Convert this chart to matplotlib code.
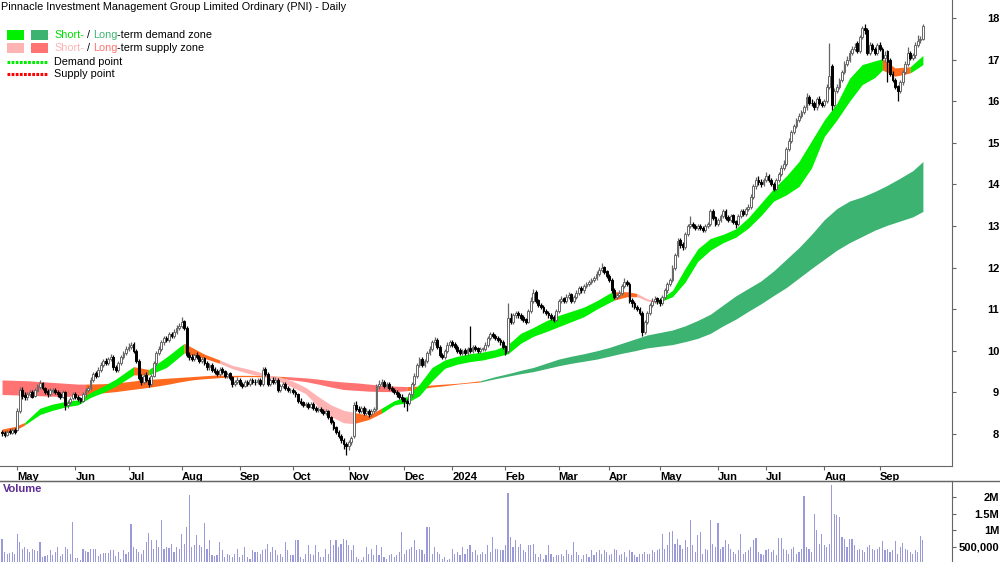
import numpy as np
import pandas as pd
import matplotlib
matplotlib.use('Agg')
import matplotlib.pyplot as plt
from matplotlib.patches import Rectangle
from matplotlib.lines import Line2D

plt.rcParams['font.family'] = ['Liberation Sans', 'DejaVu Sans']

title = 'Pinnacle Investment Management Group Limited Ordinary (PNI) - Daily'
start_date = '2023-04-20'
asx_holidays = ['2023-04-25', '2023-06-12', '2023-12-25', '2023-12-26', '2024-01-01',
                '2024-01-26', '2024-03-29', '2024-04-01', '2024-04-25', '2024-06-10']

# daily candles (10 per line)
opens = [
    8.05, 8.03, 7.98, 8.07, 8.03, 8.10, 8.10, 8.55, 9.05, 8.93,
    8.88, 8.96, 9.01, 8.92, 9.04, 9.14, 9.22, 9.10, 9.03, 8.96,
    9.04, 9.06, 9.01, 8.96, 8.90, 9.00, 8.70, 8.76, 8.86, 8.96,
    8.90, 8.86, 8.80, 8.95, 9.06, 9.10, 9.30, 9.46, 9.40, 9.55,
    9.66, 9.76, 9.70, 9.80, 9.86, 9.60, 9.55, 9.70, 9.85, 9.95,
    10.05, 10.10, 10.16, 10.00, 9.75, 9.36, 9.25, 9.42, 9.31, 9.20,
    9.40, 9.70, 9.95, 10.05, 10.20, 10.31, 10.25, 10.40, 10.35, 10.45,
    10.55, 10.60, 10.71, 10.55, 9.90, 9.86, 9.80, 9.91, 9.86, 9.75,
    9.82, 9.71, 9.60, 9.66, 9.56, 9.51, 9.45, 9.56, 9.51, 9.40,
    9.46, 9.36, 9.20, 9.25, 9.31, 9.21, 9.15, 9.26, 9.20, 9.30,
    9.26, 9.25, 9.31, 9.20, 9.56, 9.45, 9.20, 9.31, 9.25, 9.30,
    9.05, 9.15, 9.21, 9.11, 9.05, 9.06, 9.00, 8.95, 8.80, 8.76,
    8.70, 8.71, 8.65, 8.72, 8.63, 8.58, 8.61, 8.56, 8.50, 8.55,
    8.40, 8.30, 8.16, 8.05, 7.96, 7.85, 7.76, 7.70, 7.80, 7.95,
    8.70, 8.61, 8.55, 8.62, 8.50, 8.56, 8.48, 8.55, 8.60, 9.15,
    9.20, 9.26, 9.15, 9.21, 9.10, 9.06, 9.00, 8.96, 8.90, 8.86,
    8.80, 8.75, 8.95, 9.20, 9.40, 9.65, 9.80, 9.65, 9.75, 9.95,
    10.05, 10.20, 10.26, 10.10, 9.90, 9.85, 10.00, 10.15, 10.21, 10.16,
    10.10, 10.01, 9.95, 10.01, 9.95, 10.06, 10.00, 10.10, 10.06, 10.00,
    10.05, 10.05, 10.15, 10.30, 10.41, 10.36, 10.31, 10.26, 10.21, 10.11,
    10.00, 10.80, 10.70, 10.85, 10.91, 10.86, 10.81, 10.76, 10.70, 10.95,
    11.20, 11.41, 11.21, 11.10, 11.06, 10.96, 10.91, 10.86, 10.81, 10.75,
    10.95, 11.20, 11.26, 11.20, 11.30, 11.36, 11.20, 11.30, 11.40, 11.51,
    11.45, 11.55, 11.60, 11.65, 11.70, 11.75, 11.85, 11.95, 12.01, 11.91,
    11.81, 11.71, 11.46, 11.30, 11.35, 11.40, 11.55, 11.66, 11.61, 11.21,
    11.16, 11.06, 11.01, 10.91, 10.45, 10.70, 10.90, 11.10, 11.20, 11.26,
    11.21, 11.15, 11.30, 11.45, 11.60, 11.70, 12.00, 12.30, 12.66, 12.56,
    12.50, 12.80, 13.00, 13.06, 13.01, 12.95, 13.01, 12.96, 12.90, 13.00,
    13.05, 13.36, 13.21, 13.05, 13.15, 13.25, 13.36, 13.21, 13.15, 13.26,
    13.11, 13.05, 13.25, 13.36, 13.30, 13.40, 13.45, 13.70, 13.95, 14.11,
    14.06, 14.00, 14.10, 14.21, 14.11, 14.01, 13.90, 14.10, 14.25, 14.40,
    14.50, 14.85, 15.05, 15.25, 15.40, 15.55, 15.65, 15.75, 15.85, 16.11,
    15.96, 15.96, 15.85, 16.06, 15.96, 15.90, 16.00, 16.35, 16.85, 15.90,
    16.25, 16.35, 16.50, 16.70, 16.90, 17.00, 17.15, 17.25, 17.40, 17.20,
    17.55, 17.76, 17.70, 17.15, 17.36, 17.26, 17.15, 17.36, 17.26, 17.05,
    17.20, 17.00, 16.66, 16.51, 16.36, 16.25, 16.45, 16.70, 16.90, 17.16,
    17.05, 17.10, 17.35, 17.46, 17.50,
]
highs = [
    8.10, 8.08, 8.10, 8.12, 8.15, 8.14, 8.62, 9.12, 9.12, 9.00,
    9.00, 9.06, 9.05, 9.10, 9.20, 9.30, 9.26, 9.14, 9.08, 9.10,
    9.10, 9.10, 9.05, 9.00, 9.05, 9.04, 8.82, 8.90, 9.00, 9.00,
    8.94, 8.90, 9.00, 9.10, 9.16, 9.36, 9.50, 9.52, 9.60, 9.72,
    9.80, 9.82, 9.86, 9.92, 9.90, 9.66, 9.76, 9.90, 10.00, 10.12,
    10.18, 10.22, 10.20, 10.05, 9.80, 9.45, 9.46, 9.48, 9.38, 9.45,
    9.75, 10.00, 10.12, 10.25, 10.36, 10.36, 10.45, 10.45, 10.52, 10.62,
    10.66, 10.82, 10.75, 10.60, 9.96, 9.92, 9.95, 9.96, 9.90, 9.86,
    9.86, 9.76, 9.70, 9.70, 9.62, 9.56, 9.60, 9.60, 9.55, 9.50,
    9.50, 9.40, 9.30, 9.36, 9.35, 9.26, 9.30, 9.30, 9.35, 9.34,
    9.32, 9.35, 9.34, 9.62, 9.60, 9.50, 9.35, 9.36, 9.36, 9.34,
    9.20, 9.25, 9.25, 9.15, 9.10, 9.10, 9.05, 8.98, 8.86, 8.80,
    8.76, 8.76, 8.78, 8.76, 8.68, 8.65, 8.65, 8.60, 8.60, 8.58,
    8.44, 8.34, 8.20, 8.10, 8.00, 7.90, 7.80, 7.85, 7.96, 8.78,
    8.80, 8.68, 8.68, 8.68, 8.62, 8.60, 8.60, 8.66, 9.20, 9.30,
    9.32, 9.30, 9.25, 9.26, 9.15, 9.10, 9.05, 9.00, 8.95, 8.90,
    8.85, 9.00, 9.26, 9.46, 9.70, 9.86, 9.85, 9.80, 10.00, 10.12,
    10.25, 10.32, 10.30, 10.15, 9.95, 10.05, 10.20, 10.26, 10.25, 10.20,
    10.15, 10.06, 10.05, 10.06, 10.10, 10.60, 10.15, 10.15, 10.10, 10.10,
    10.10, 10.20, 10.35, 10.46, 10.45, 10.40, 10.36, 10.30, 10.25, 10.15,
    11.15, 10.90, 10.90, 10.96, 10.95, 10.90, 10.85, 10.80, 11.00, 11.30,
    11.48, 11.45, 11.25, 11.15, 11.10, 11.00, 10.95, 10.90, 10.86, 11.00,
    11.25, 11.32, 11.30, 11.36, 11.42, 11.40, 11.35, 11.45, 11.56, 11.55,
    11.60, 11.66, 11.70, 11.76, 11.80, 11.92, 12.02, 12.10, 12.05, 11.95,
    11.85, 11.75, 11.50, 11.40, 11.45, 11.60, 11.75, 11.70, 11.65, 11.28,
    11.20, 11.10, 11.05, 10.95, 10.75, 10.95, 11.15, 11.26, 11.32, 11.30,
    11.26, 11.35, 11.50, 11.66, 11.76, 12.06, 12.36, 12.72, 12.70, 12.62,
    12.86, 13.06, 13.25, 13.10, 13.06, 13.05, 13.06, 13.00, 13.06, 13.10,
    13.42, 13.40, 13.25, 13.20, 13.30, 13.42, 13.40, 13.26, 13.30, 13.30,
    13.15, 13.30, 13.40, 13.40, 13.45, 13.52, 13.76, 14.00, 14.18, 14.20,
    14.12, 14.16, 14.30, 14.26, 14.16, 14.06, 14.15, 14.30, 14.46, 14.58,
    14.90, 15.12, 15.30, 15.46, 15.60, 15.72, 15.80, 15.92, 16.20, 16.15,
    16.05, 16.00, 16.10, 16.12, 16.00, 16.06, 16.42, 17.40, 16.90, 16.32,
    16.42, 16.56, 16.76, 16.96, 17.08, 17.22, 17.32, 17.40, 17.45, 17.60,
    17.82, 17.86, 17.75, 17.42, 17.40, 17.30, 17.40, 17.42, 17.30, 17.20,
    17.22, 17.05, 16.72, 16.56, 16.40, 16.50, 16.76, 16.96, 17.30, 17.20,
    17.15, 17.42, 17.60, 17.56, 17.85,
]
lows = [
    7.95, 7.93, 7.95, 7.99, 8.00, 8.00, 8.08, 8.50, 8.85, 8.82,
    8.82, 8.90, 8.86, 8.88, 9.00, 9.08, 9.05, 8.96, 8.90, 8.92,
    8.98, 8.96, 8.90, 8.84, 8.86, 8.58, 8.62, 8.72, 8.82, 8.84,
    8.80, 8.74, 8.77, 8.90, 9.00, 9.06, 9.25, 9.35, 9.36, 9.50,
    9.60, 9.65, 9.66, 9.75, 9.55, 9.48, 9.50, 9.66, 9.80, 9.90,
    10.00, 10.05, 9.95, 9.70, 9.30, 9.18, 9.20, 9.25, 9.12, 9.15,
    9.36, 9.65, 9.90, 10.00, 10.15, 10.20, 10.20, 10.30, 10.30, 10.40,
    10.50, 10.55, 10.50, 9.85, 9.78, 9.75, 9.76, 9.80, 9.70, 9.70,
    9.66, 9.55, 9.55, 9.50, 9.45, 9.40, 9.40, 9.45, 9.35, 9.35,
    9.30, 9.12, 9.15, 9.20, 9.15, 9.10, 9.12, 9.15, 9.16, 9.20,
    9.18, 9.20, 9.15, 9.16, 9.40, 9.15, 9.15, 9.20, 9.20, 9.00,
    9.00, 9.10, 9.05, 9.00, 8.98, 8.95, 8.90, 8.75, 8.70, 8.64,
    8.64, 8.60, 8.62, 8.58, 8.52, 8.54, 8.50, 8.45, 8.45, 8.35,
    8.25, 8.10, 8.00, 7.90, 7.78, 7.65, 7.50, 7.62, 7.74, 7.90,
    8.55, 8.50, 8.50, 8.45, 8.45, 8.42, 8.44, 8.50, 8.55, 9.08,
    9.15, 9.10, 9.10, 9.05, 9.00, 8.95, 8.90, 8.85, 8.78, 8.65,
    8.55, 8.70, 8.90, 9.15, 9.35, 9.60, 9.60, 9.60, 9.70, 9.90,
    10.00, 10.15, 10.05, 9.85, 9.80, 9.80, 9.95, 10.10, 10.10, 10.05,
    9.95, 9.90, 9.90, 9.90, 9.90, 9.95, 9.95, 10.00, 9.95, 9.95,
    10.00, 10.00, 10.10, 10.25, 10.30, 10.25, 10.20, 10.15, 10.05, 9.90,
    9.95, 10.65, 10.65, 10.80, 10.80, 10.75, 10.70, 10.65, 10.66, 10.90,
    11.15, 11.15, 11.05, 11.00, 10.90, 10.85, 10.80, 10.75, 10.70, 10.72,
    10.90, 11.15, 11.15, 11.15, 11.25, 11.15, 11.15, 11.25, 11.35, 11.40,
    11.40, 11.50, 11.55, 11.60, 11.65, 11.70, 11.80, 11.90, 11.85, 11.75,
    11.65, 11.40, 11.25, 11.25, 11.30, 11.35, 11.50, 11.55, 11.15, 11.05,
    11.00, 10.95, 10.85, 10.35, 10.40, 10.65, 10.85, 11.05, 11.15, 11.12,
    11.08, 11.10, 11.25, 11.40, 11.55, 11.65, 11.95, 12.25, 12.48, 12.42,
    12.45, 12.75, 12.95, 12.95, 12.90, 12.90, 12.90, 12.85, 12.85, 12.95,
    13.00, 13.15, 13.00, 13.00, 13.10, 13.20, 13.15, 13.10, 13.10, 13.05,
    12.95, 13.00, 13.20, 13.25, 13.25, 13.35, 13.40, 13.65, 13.90, 13.98,
    13.94, 13.95, 14.05, 14.05, 13.95, 13.85, 13.86, 14.05, 14.20, 14.35,
    14.45, 14.80, 15.00, 15.20, 15.35, 15.50, 15.60, 15.70, 15.80, 15.90,
    15.88, 15.78, 15.80, 15.90, 15.85, 15.85, 15.95, 16.30, 15.80, 15.85,
    16.20, 16.30, 16.45, 16.65, 16.85, 16.95, 17.10, 17.20, 17.15, 17.15,
    17.50, 17.62, 17.10, 17.10, 17.20, 17.10, 17.10, 17.20, 17.00, 16.95,
    16.45, 16.60, 16.45, 16.30, 16.00, 16.20, 16.40, 16.65, 16.85, 17.00,
    16.98, 17.05, 17.30, 17.40, 17.48,
]
closes = [
    8.02, 7.98, 8.06, 8.04, 8.10, 8.05, 8.55, 9.05, 8.92, 8.88,
    8.95, 9.00, 8.90, 9.05, 9.15, 9.22, 9.10, 9.02, 8.95, 9.05,
    9.05, 9.00, 8.95, 8.90, 9.00, 8.70, 8.75, 8.85, 8.95, 8.90,
    8.85, 8.80, 8.95, 9.05, 9.10, 9.30, 9.45, 9.40, 9.55, 9.65,
    9.75, 9.70, 9.80, 9.85, 9.60, 9.55, 9.70, 9.85, 9.95, 10.05,
    10.10, 10.15, 10.00, 9.75, 9.35, 9.25, 9.40, 9.30, 9.20, 9.40,
    9.70, 9.95, 10.05, 10.20, 10.30, 10.25, 10.40, 10.35, 10.45, 10.55,
    10.60, 10.70, 10.55, 9.90, 9.85, 9.80, 9.90, 9.85, 9.75, 9.80,
    9.70, 9.60, 9.65, 9.55, 9.50, 9.45, 9.55, 9.50, 9.40, 9.45,
    9.35, 9.20, 9.25, 9.30, 9.20, 9.15, 9.25, 9.20, 9.30, 9.25,
    9.25, 9.30, 9.20, 9.55, 9.45, 9.20, 9.30, 9.25, 9.30, 9.05,
    9.15, 9.20, 9.10, 9.05, 9.05, 9.00, 8.95, 8.80, 8.75, 8.70,
    8.70, 8.65, 8.72, 8.62, 8.58, 8.60, 8.55, 8.50, 8.55, 8.40,
    8.30, 8.15, 8.05, 7.95, 7.85, 7.75, 7.70, 7.80, 7.90, 8.70,
    8.60, 8.55, 8.62, 8.50, 8.55, 8.48, 8.55, 8.60, 9.15, 9.20,
    9.25, 9.15, 9.20, 9.10, 9.05, 9.00, 8.95, 8.90, 8.85, 8.80,
    8.75, 8.95, 9.20, 9.40, 9.65, 9.80, 9.65, 9.75, 9.95, 10.05,
    10.20, 10.25, 10.10, 9.90, 9.85, 10.00, 10.15, 10.20, 10.15, 10.10,
    10.00, 9.95, 10.00, 9.95, 10.05, 10.00, 10.10, 10.05, 10.00, 10.05,
    10.05, 10.15, 10.30, 10.40, 10.35, 10.30, 10.25, 10.20, 10.10, 9.95,
    10.80, 10.70, 10.85, 10.90, 10.85, 10.80, 10.75, 10.70, 10.95, 11.20,
    11.40, 11.20, 11.10, 11.05, 10.95, 10.90, 10.85, 10.80, 10.75, 10.95,
    11.20, 11.25, 11.20, 11.30, 11.35, 11.20, 11.30, 11.40, 11.50, 11.45,
    11.55, 11.60, 11.65, 11.70, 11.75, 11.85, 11.95, 12.00, 11.90, 11.80,
    11.70, 11.45, 11.30, 11.35, 11.40, 11.55, 11.65, 11.60, 11.20, 11.15,
    11.05, 11.00, 10.90, 10.45, 10.70, 10.90, 11.10, 11.20, 11.25, 11.20,
    11.15, 11.30, 11.45, 11.60, 11.70, 12.00, 12.30, 12.65, 12.55, 12.50,
    12.80, 13.00, 13.05, 13.00, 12.95, 13.00, 12.95, 12.90, 13.00, 13.05,
    13.35, 13.20, 13.05, 13.15, 13.25, 13.35, 13.20, 13.15, 13.25, 13.10,
    13.05, 13.25, 13.35, 13.30, 13.40, 13.45, 13.70, 13.95, 14.10, 14.05,
    14.00, 14.10, 14.20, 14.10, 14.00, 13.90, 14.10, 14.25, 14.40, 14.50,
    14.85, 15.05, 15.25, 15.40, 15.55, 15.65, 15.75, 15.85, 16.10, 15.95,
    15.95, 15.85, 16.05, 15.95, 15.90, 16.00, 16.35, 16.60, 15.90, 16.25,
    16.35, 16.50, 16.70, 16.90, 17.00, 17.15, 17.25, 17.30, 17.20, 17.55,
    17.75, 17.70, 17.15, 17.35, 17.25, 17.15, 17.35, 17.25, 17.05, 17.10,
    16.95, 16.65, 16.50, 16.35, 16.25, 16.45, 16.70, 16.90, 17.15, 17.05,
    17.10, 17.35, 17.45, 17.50, 17.80,
]
# volume in millions of shares
volume_m = [
    0.75, 0.36, 0.30, 0.33, 0.35, 0.28, 0.90, 0.66, 0.45, 0.50,
    0.45, 0.35, 0.45, 0.40, 0.37, 0.66, 0.20, 0.22, 0.25, 0.40,
    0.25, 0.35, 0.50, 0.22, 0.30, 0.50, 0.45, 0.30, 1.25, 0.18,
    0.18, 0.12, 0.45, 0.37, 0.36, 0.45, 0.45, 0.43, 0.22, 0.28,
    0.33, 0.33, 0.33, 0.40, 0.42, 0.22, 0.36, 0.15, 0.40, 0.30,
    0.35, 1.20, 0.50, 0.45, 0.35, 0.30, 0.40, 0.65, 0.93, 0.70,
    0.45, 0.72, 0.50, 1.32, 0.45, 0.50, 0.48, 0.60, 0.35, 0.50,
    0.45, 0.90, 0.60, 1.10, 2.07, 0.50, 0.55, 0.85, 0.55, 0.50,
    1.23, 0.45, 0.70, 0.25, 0.22, 0.25, 0.65, 0.40, 0.20, 0.30,
    0.25, 0.20, 0.30, 0.45, 0.20, 0.25, 0.50, 0.20, 0.15, 0.40,
    0.35, 0.35, 0.30, 0.40, 0.45, 0.60, 0.35, 0.50, 0.40, 0.25,
    0.30, 0.20, 0.65, 0.40, 0.25, 0.25, 0.70, 0.70, 0.20, 0.15,
    0.30, 0.55, 0.30, 0.25, 0.55, 0.35, 0.20, 0.20, 0.45, 0.30,
    0.72, 0.55, 0.72, 0.50, 0.60, 0.75, 0.72, 0.55, 0.40, 0.55,
    0.20, 0.15, 0.12, 0.20, 0.50, 0.30, 0.45, 0.25, 0.55, 0.25,
    0.50, 0.20, 0.15, 0.25, 0.30, 0.20, 0.25, 0.35, 0.95, 0.30,
    0.40, 0.45, 0.50, 0.70, 0.40, 0.45, 0.40, 0.30, 1.10, 1.10,
    0.30, 0.50, 0.35, 0.30, 0.15, 0.20, 0.12, 0.15, 0.45, 0.30,
    0.35, 0.25, 0.50, 0.30, 0.45, 0.55, 0.35, 0.40, 0.25, 0.30,
    0.35, 0.30, 0.55, 0.35, 0.80, 0.45, 0.45, 0.40, 0.40, 0.55,
    2.12, 0.80, 0.50, 0.70, 0.50, 0.60, 0.40, 0.35, 0.55, 0.55,
    0.60, 0.30, 0.20, 0.30, 0.15, 0.25, 0.55, 0.30, 0.20, 0.25,
    0.25, 0.30, 0.22, 0.40, 0.30, 0.25, 0.65, 0.35, 0.25, 0.15,
    0.25, 0.30, 0.20, 0.40, 0.25, 0.35, 0.40, 0.30, 0.40, 0.35,
    0.25, 0.30, 0.45, 0.40, 0.25, 0.30, 0.35, 0.20, 0.40, 0.35,
    0.25, 0.20, 0.30, 0.30, 0.35, 0.30, 0.30, 0.40, 0.35, 0.40,
    0.45, 0.90, 0.45, 0.55, 0.95, 0.98, 0.60, 0.75, 0.55, 0.45,
    0.70, 0.50, 1.30, 0.55, 0.35, 0.85, 0.95, 0.30, 0.45, 0.40,
    1.30, 0.60, 0.50, 1.22, 0.45, 0.50, 0.70, 0.60, 0.45, 0.35,
    0.30, 0.40, 0.90, 0.30, 0.35, 0.40, 0.50, 0.72, 0.78, 0.35,
    0.30, 0.25, 0.40, 0.45, 0.35, 0.40, 0.25, 0.78, 0.78, 0.45,
    0.40, 0.30, 0.45, 0.50, 0.30, 0.35, 0.45, 2.03, 0.50, 0.45,
    0.35, 1.50, 1.00, 0.60, 0.90, 0.55, 0.50, 0.60, 2.37, 1.50,
    1.45, 1.40, 0.80, 0.75, 0.50, 0.75, 0.75, 0.55, 0.40, 0.45,
    0.40, 0.35, 0.50, 0.55, 0.45, 0.40, 0.45, 0.50, 0.67, 0.40,
    0.45, 0.35, 0.40, 0.67, 0.30, 0.50, 0.62, 0.45, 0.40, 0.35,
    0.30, 0.40, 0.35, 0.82, 0.72,
]

# short-term zone: sample day, upper, lower
short_idx = [0, 5, 9, 15, 20, 25, 30, 35, 40, 45, 52, 58, 65, 72, 80, 86, 91, 96, 100, 105,
             110, 115, 120, 125, 130, 135, 139, 145, 150, 155, 160, 165, 170, 175, 180, 185,
             190, 195, 200, 205, 210, 215, 220, 225, 230, 235, 240, 242, 247, 251, 255, 259,
             265, 270, 275, 280, 285, 290, 295, 300, 305, 310, 315, 320, 325, 330, 335, 340,
             345, 348, 353, 359, 364]
short_top = [8.12, 8.18, 8.28, 8.62, 8.72, 8.78, 8.82, 9.00, 9.15, 9.32, 9.62, 9.55, 9.85,
             10.18, 9.92, 9.78, 9.65, 9.58, 9.52, 9.42, 9.37, 9.27, 9.12, 8.90, 8.70, 8.57,
             8.52, 8.45, 8.62, 8.80, 8.90, 9.20, 9.60, 9.78, 9.87, 9.93, 9.97, 10.03, 10.15,
             10.42, 10.56, 10.72, 10.85, 10.95, 11.05, 11.20, 11.38, 11.42, 11.42, 11.38,
             11.25, 11.20, 11.45, 11.98, 12.45, 12.70, 12.80, 12.93, 13.20, 13.55, 13.90,
             14.20, 14.55, 15.05, 15.55, 15.95, 16.55, 16.88, 16.97, 17.02, 16.80, 16.83, 17.10]
short_bot = [8.02, 8.08, 8.22, 8.47, 8.57, 8.65, 8.70, 8.88, 9.00, 9.15, 9.42, 9.42, 9.60,
             9.95, 9.82, 9.70, 9.57, 9.48, 9.42, 9.38, 9.25, 9.12, 8.97, 8.65, 8.42, 8.27,
             8.25, 8.35, 8.50, 8.70, 8.75, 8.92, 9.28, 9.58, 9.68, 9.74, 9.78, 9.85, 9.93,
             10.18, 10.35, 10.46, 10.58, 10.70, 10.82, 11.00, 11.16, 11.22, 11.30, 11.30,
             11.20, 11.15, 11.30, 11.65, 12.15, 12.42, 12.60, 12.73, 12.95, 13.25, 13.60,
             13.75, 13.95, 14.40, 15.15, 15.55, 16.00, 16.40, 16.57, 16.75, 16.60, 16.68, 16.88]
# colour of each stretch between two samples, written as runs
short_col = ('OO' + 'G' * 8 + 'O' + 'GG' + 'OO' + 'P' * 11 + 'OO' + 'G' * 19 + 'OO' + 'PP'
             + 'G' * 18 + 'OO' + 'G')

# long-term zone
long_idx = [0, 10, 20, 25, 30, 33, 40, 45, 50, 55, 60, 65, 70, 75, 80, 85, 90, 95, 100, 105,
            112, 115, 120, 125, 130, 135, 140, 145, 150, 155, 160, 165, 170, 175, 180, 185,
            189, 195, 200, 205, 210, 215, 220, 225, 230, 235, 240, 245, 250, 255, 260, 265,
            270, 275, 280, 285, 290, 295, 300, 305, 310, 315, 320, 325, 330, 335, 340, 345,
            350, 355, 360, 364]
long_top = [9.30, 9.28, 9.24, 9.22, 9.20, 9.20, 9.21, 9.23, 9.26, 9.30, 9.32, 9.34, 9.36,
            9.38, 9.40, 9.42, 9.41, 9.41, 9.41, 9.40, 9.38, 9.37, 9.35, 9.32, 9.28, 9.25,
            9.23, 9.20, 9.17, 9.15, 9.14, 9.15, 9.18, 9.20, 9.22, 9.25, 9.28, 9.38, 9.45,
            9.53, 9.60, 9.70, 9.80, 9.87, 9.93, 10.00, 10.08, 10.18, 10.28, 10.38, 10.44,
            10.50, 10.60, 10.73, 10.88, 11.10, 11.32, 11.50, 11.68, 11.92, 12.20, 12.48,
            12.80, 13.15, 13.42, 13.60, 13.70, 13.83, 13.98, 14.15, 14.33, 14.55]
long_bot = [8.95, 8.93, 8.91, 8.90, 8.92, 8.94, 8.99, 9.02, 9.06, 9.10, 9.14, 9.19, 9.25,
            9.30, 9.33, 9.35, 9.37, 9.38, 9.38, 9.37, 9.32, 9.30, 9.26, 9.20, 9.13, 9.07,
            9.05, 9.03, 9.02, 9.02, 9.04, 9.08, 9.13, 9.16, 9.20, 9.23, 9.25, 9.33, 9.39,
            9.45, 9.50, 9.57, 9.64, 9.70, 9.75, 9.80, 9.87, 9.94, 10.00, 10.07, 10.11,
            10.15, 10.22, 10.30, 10.42, 10.60, 10.76, 10.95, 11.13, 11.33, 11.52, 11.75,
            11.98, 12.20, 12.42, 12.60, 12.75, 12.90, 13.02, 13.12, 13.22, 13.35]
long_col = 'R' * 5 + 'O' * 15 + 'R' * 10 + 'O' * 6 + 'D' * 35

zone_colors = {'G': '#00f000', 'D': '#3cb371', 'P': '#ffb4b4', 'R': '#ff7373', 'O': '#ff6a1f'}

price_ticks = [8, 9, 10, 11, 12, 13, 14, 15, 16, 17, 18]
vol_ticks = [0.5, 1.0, 1.5, 2.0]
vol_labels = ['500,000', '1M', '1.5M', '2M']

n = len(closes)
assert len(opens) == n and len(highs) == n and len(lows) == n and len(volume_m) == n
assert len(short_col) == len(short_idx) - 1 and len(long_col) == len(long_idx) - 1
dates = pd.bdate_range(start_date, periods=n, freq='C', holidays=asx_holidays)
x = np.arange(n)

W, H = 1000, 562
fig = plt.figure(figsize=(10, 5.62), dpi=100)
ax = fig.add_axes([0, 1 - 466 / H, 952 / W, 466 / H])
vax = fig.add_axes([0, 0, 952 / W, 81 / H])
xlim = (-0.8, 375.5)


def draw_zone(idx, top, bot, codes):
    # one polygon per run of equal colour
    k = 0
    while k < len(codes):
        j = k
        while j + 1 < len(codes) and codes[j + 1] == codes[k]:
            j += 1
        sl = slice(k, j + 2)
        ax.fill_between(idx[sl], top[sl], bot[sl], color=zone_colors[codes[k]],
                        lw=0, zorder=1)
        k = j + 1


draw_zone(long_idx, long_top, long_bot, long_col)
draw_zone(short_idx, short_top, short_bot, short_col)

# candles
o = np.array(opens); c = np.array(closes)
up = c >= o
ax.vlines(x[up], np.array(lows)[up], np.array(highs)[up], color='#666666', lw=0.9, zorder=3)
ax.vlines(x[~up], np.array(lows)[~up], np.array(highs)[~up], color='black', lw=0.9, zorder=3)
body = np.maximum(np.abs(c - o), 0.012)
ax.bar(x[up], body[up], bottom=np.minimum(o, c)[up], width=0.72, facecolor='white',
       edgecolor='#666666', lw=0.7, zorder=4)
ax.bar(x[~up], body[~up], bottom=np.minimum(o, c)[~up], width=0.72, facecolor='black',
       edgecolor='black', lw=0.7, zorder=4)

ax.set_xlim(*xlim)
ax.set_ylim(7.231, 18.433)
for s in ['left', 'top']:
    ax.spines[s].set_visible(False)
for s in ['right', 'bottom']:
    ax.spines[s].set_color('#666666')
ax.yaxis.tick_right()
ax.set_yticks(price_ticks)
ax.set_yticklabels([str(t) for t in price_ticks])
ax.tick_params(axis='y', direction='out', length=3, pad=31, colors='#666666',
               labelcolor='black', labelsize=8)
for lbl in ax.get_yticklabels():
    lbl.set_horizontalalignment('right')
    lbl.set_fontweight('bold')

month_pos, month_lab = [], []
for k in range(1, n):
    if dates[k].month != dates[k - 1].month:
        month_pos.append(k)
        month_lab.append(str(dates[k].year) if dates[k].month == 1 else dates[k].strftime('%b'))
ax.set_xticks(month_pos)
ax.set_xticklabels(month_lab)
ax.tick_params(axis='x', direction='out', length=3, pad=1, colors='#666666',
               labelcolor='black', labelsize=8)
for lbl in ax.get_xticklabels():
    lbl.set_horizontalalignment('left')
    lbl.set_fontweight('bold')

# volume
vax.bar(x, volume_m, width=0.45, color='#9a9adb', lw=0)
vax.set_xlim(*xlim)
vax.set_ylim(0.05, 2.48)
for s in ['left', 'bottom']:
    vax.spines[s].set_visible(False)
for s in ['right', 'top']:
    vax.spines[s].set_color('#666666')
vax.set_xticks([])
vax.yaxis.tick_right()
vax.set_yticks(vol_ticks)
vax.set_yticklabels(vol_labels)
vax.tick_params(axis='y', direction='out', length=3, pad=31, colors='#666666',
                labelcolor='black', labelsize=8)
for lbl in vax.get_yticklabels():
    lbl.set_horizontalalignment('right')
    lbl.set_fontweight('bold')
fig.add_artist(Line2D([0, 1], [81 / H, 81 / H], color='#666666', lw=1))
fig.text(3 / W, 1 - 489 / H, 'Volume', color='#5c2a96', fontsize=8, fontweight='bold',
         va='center', ha='left')

# title and legend
fig.text(1 / W, 1 - 7 / H, title, fontsize=7.8, va='center', ha='left')
for x0, col in [(7, '#00f000'), (31, '#3cb371')]:
    fig.add_artist(Rectangle((x0 / W, 1 - 40 / H), 17 / W, 9.5 / H, transform=fig.transFigure,
                             color=col, lw=0))
for x0, col in [(7, '#ffb4b4'), (31, '#ff7373')]:
    fig.add_artist(Rectangle((x0 / W, 1 - 53 / H), 17 / W, 9.5 / H, transform=fig.transFigure,
                             color=col, lw=0))
fig.add_artist(Line2D([7 / W, 48 / W], [1 - 62 / H] * 2, color='#00ee00', lw=2.2,
                      linestyle=(0, (0.9, 0.45))))
fig.add_artist(Line2D([7 / W, 48 / W], [1 - 74 / H] * 2, color='#ff0000', lw=2.2,
                      linestyle=(0, (0.9, 0.45))))

fig.canvas.draw()
rend = fig.canvas.get_renderer()


def put_runs(x_px, y_px, runs):
    for txt, col in runs:
        t = fig.text(x_px / W, 1 - y_px / H, txt, color=col, fontsize=7.8, va='center',
                     ha='left')
        x_px += t.get_window_extent(renderer=rend).width


put_runs(54, 35, [('Short-', '#00e000'), (' / ', 'black'), ('Long', '#3cb371'),
                  ('-term demand zone', 'black')])
put_runs(54, 48, [('Short-', '#ffb4b4'), (' / ', 'black'), ('Long', '#ff7373'),
                  ('-term supply zone', 'black')])
put_runs(54, 62, [('Demand point', 'black')])
put_runs(54, 74, [('Supply point', 'black')])

fig.savefig('out.png', dpi=100)
